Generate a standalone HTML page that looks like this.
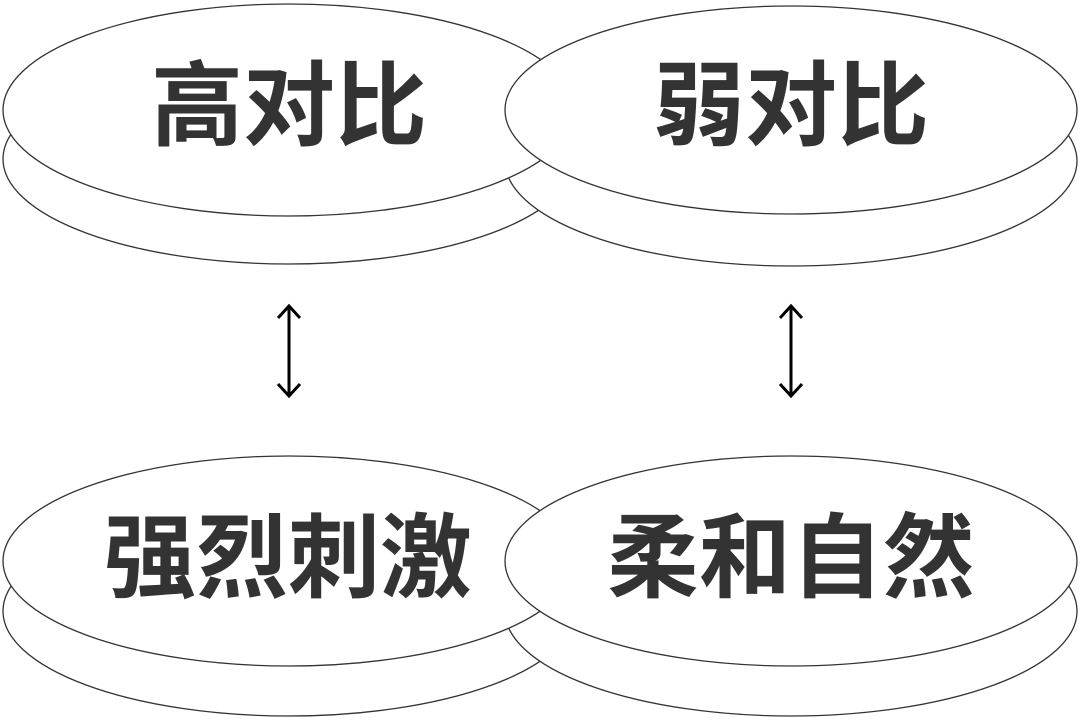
<!DOCTYPE html>
<html><head><meta charset="utf-8"><style>
html,body{margin:0;padding:0;background:#fff}
svg{display:block}
text{font-family:"Liberation Sans","Noto Sans CJK SC",sans-serif;font-weight:bold;fill:#333;font-size:92px}
</style></head><body>
<svg width="1080" height="724" viewBox="0 0 1080 724">
<g fill="#fff" stroke="#333" stroke-width="1.3">
<ellipse cx="289" cy="159" rx="286" ry="105"/>
<ellipse cx="791" cy="161" rx="286" ry="105"/>
<ellipse cx="289" cy="110" rx="286" ry="106"/>
<ellipse cx="791" cy="110" rx="286" ry="104"/>
<ellipse cx="289" cy="611" rx="286" ry="105"/>
<ellipse cx="791" cy="611" rx="286" ry="105"/>
<ellipse cx="289" cy="561" rx="286" ry="105"/>
<ellipse cx="791" cy="561" rx="286" ry="105"/>
</g>
<g stroke="#000" stroke-width="3" fill="none">
<line x1="289" y1="306" x2="289" y2="396"/>
<polyline points="278,318 289,306 300,318"/>
<polyline points="278,384 289,396 300,384"/>
<line x1="791" y1="306" x2="791" y2="396"/>
<polyline points="780,318 791,306 802,318"/>
<polyline points="780,384 791,396 802,384"/>
</g>
<text x="289" y="138" text-anchor="middle">高对比</text>
<text x="791" y="138" text-anchor="middle">弱对比</text>
<text x="288" y="590" text-anchor="middle">强烈刺激</text>
<text x="791" y="590" text-anchor="middle">柔和自然</text>
</svg>
</body></html>
